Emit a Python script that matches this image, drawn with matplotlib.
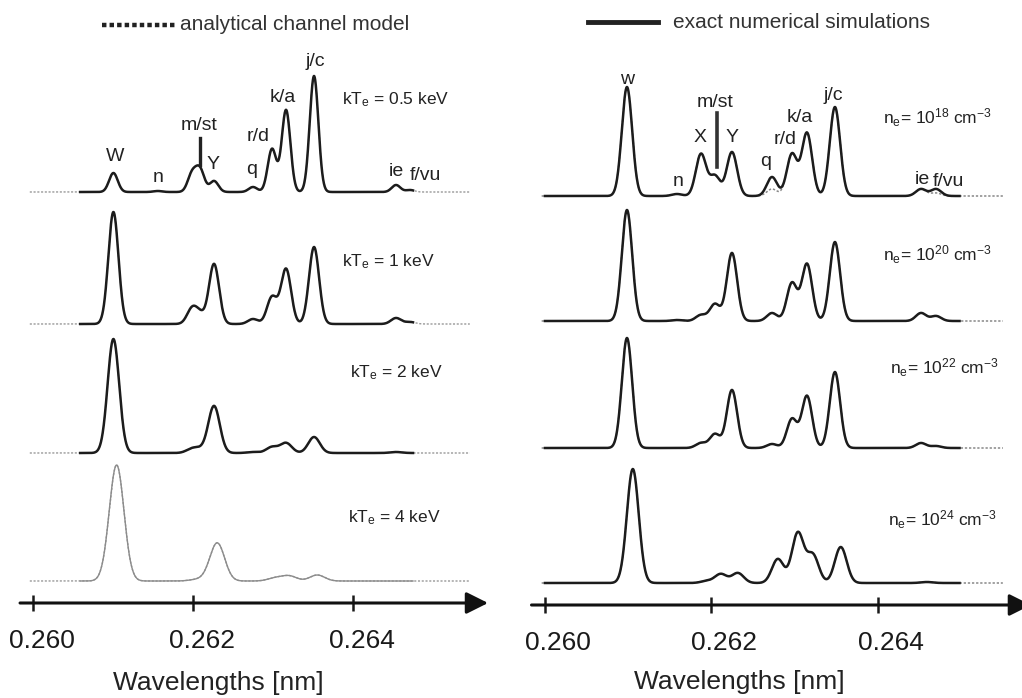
import numpy as np
import matplotlib.pyplot as plt
from matplotlib.transforms import ScaledTranslation

plt.rcParams['font.family'] = 'Liberation Sans'
plt.rcParams['mathtext.fontset'] = 'custom'
plt.rcParams['mathtext.rm'] = 'Liberation Sans'
plt.rcParams['mathtext.it'] = 'Liberation Sans:italic'

# satellite / resonance line list (same order for every spectrum)
line_names = ['W', 'n', 'X', 'm/st', 'Y', 'q', 'r/d', 'k/a', 'j/c', 'ie', 'f/vu']

# line centres [nm] as resolved in each set of runs
centres_te = [0.261005, 0.26156, 0.261988, 0.262088, 0.262263, 0.26275,
              0.262988, 0.263163, 0.263513, 0.264538, 0.264713]
centres_ne = [0.260985, 0.261586, 0.261874, 0.262042, 0.262246, 0.262727,
              0.262967, 0.263147, 0.263483, 0.264517, 0.264697]

# temperature scan (left), peak intensities in arb. units
te_values = ['0.5', '1', '2', '4']
te_int = [
    [0.19, 0.01, 0.18, 0.22, 0.11, 0.05, 0.43, 0.82, 1.16, 0.07, 0.02],
    [1.12, 0.00, 0.15, 0.09, 0.60, 0.05, 0.27, 0.55, 0.77, 0.06, 0.02],
    [1.14, 0.00, 0.04, 0.03, 0.47, 0.01, 0.06, 0.10, 0.16, 0.01, 0.00],
    [1.16, 0.00, 0.01, 0.01, 0.38, 0.00, 0.03, 0.05, 0.06, 0.00, 0.00],
]
te_width = [0.000054, 0.000063, 0.000072, 0.000092]
te_shift = [0.0, 0.0, 0.0, 0.00004]

# density scan (right)
ne_exp = ['18', '20', '22', '24']
ne_int = [
    [1.09, 0.02, 0.42, 0.20, 0.44, 0.19, 0.42, 0.63, 0.89, 0.07, 0.07],
    [1.11, 0.01, 0.06, 0.17, 0.68, 0.08, 0.38, 0.57, 0.79, 0.08, 0.05],
    [1.10, 0.00, 0.05, 0.14, 0.58, 0.04, 0.29, 0.52, 0.76, 0.05, 0.02],
    [1.14, 0.00, 0.02, 0.09, 0.10, 0.24, 0.50, 0.28, 0.36, 0.01, 0.00],
]
ne_width = [0.000062, 0.000062, 0.000062, 0.000071]
ne_shift = [0.0, 0.0, 0.0, 0.00007]
# channel model differs from the simulation only at low density
ne_model_low = [1.09, 0.02, 0.42, 0.20, 0.44, 0.07, 0.42, 0.63, 0.89, 0.07, 0.03]

tick_vals = [0.260, 0.262, 0.264]


def spectrum(lam, centres, ints, width, shift):
    y = np.zeros_like(lam)
    for c, h in zip(centres, ints):
        y += h * np.exp(-0.5 * ((lam - c - shift) / width) ** 2)
    return y


def setup_axis(ax, xlim, ylim, lab_shift):
    ax.set_xlim(xlim)
    ax.set_ylim(ylim)
    for s in ['left', 'right', 'top']:
        ax.spines[s].set_visible(False)
    ax.spines['bottom'].set_position(('data', -0.22))
    ax.spines['bottom'].set_visible(False)
    ax.set_yticks([])
    ax.set_xticks(tick_vals)
    ax.set_xticklabels(['%.3f' % t for t in tick_vals])
    ax.tick_params(axis='x', direction='inout', length=11, width=1.8,
                   labelsize=19, pad=13, colors='#1a1a1a')
    for lab in ax.get_xticklabels():
        lab.set_transform(lab.get_transform() +
                          ScaledTranslation(lab_shift, 0, fig.dpi_scale_trans))
    ax.patch.set_visible(False)


fig = plt.figure(figsize=(10.22, 6.98), dpi=100)
axL = fig.add_axes([15 / 1022, 0, 480 / 1022, 1])
axR = fig.add_axes([530 / 1022, 0, 492 / 1022, 1])
setup_axis(axL, (0.259775, 0.265775), (-1.17, 5.81), 0.09)
setup_axis(axR, (0.25982, 0.26573), (-1.15, 5.83), 0.13)

dark = '#1c1c1c'
dots = (0, (1.5, 1.2))
offs_te = [3.89, 2.57, 1.28, 0.0]
offs_ne = [3.87, 2.62, 1.35, 0.0]

# left: temperature scan
lam_m = np.linspace(0.25996, 0.26546, 1600)
lam_x = np.linspace(0.26059, 0.26475, 1600)
for i in range(4):
    col, lw = (dark, 1.8) if i < 3 else ('#8c8c8c', 1.0)
    ym = spectrum(lam_m, centres_te, te_int[i], te_width[i], te_shift[i])
    ye = spectrum(lam_x, centres_te, te_int[i], te_width[i], te_shift[i])
    axL.plot(lam_m, ym + offs_te[i], ls=dots, lw=1.0, color='#999', zorder=1)
    axL.plot(lam_x, ye + offs_te[i], lw=lw, color=col, zorder=2)

# right: density scan
lam_m = np.linspace(0.25996, 0.26550, 1600)
lam_x = np.linspace(0.26000, 0.26498, 1600)
for i in range(4):
    model = ne_model_low if i == 0 else ne_int[i]
    ym = spectrum(lam_m, centres_ne, model, ne_width[i], ne_shift[i])
    ye = spectrum(lam_x, centres_ne, ne_int[i], ne_width[i], ne_shift[i])
    axR.plot(lam_m, ym + offs_ne[i], ls=dots, lw=1.1, color='#888', zorder=1)
    axR.plot(lam_x, ye + offs_ne[i], lw=1.8, color=dark, zorder=2)

# wavelength axes with arrow heads
for ax, x0, x1 in [(axL, 0.259838, 0.265688), (axR, 0.259838, 0.265838)]:
    ax.annotate('', xy=(x1, -0.22), xytext=(x0, -0.22), annotation_clip=False,
                arrowprops=dict(arrowstyle='-|>,head_length=0.6,head_width=0.3',
                                lw=2.2, color='#111', shrinkA=0, shrinkB=0,
                                mutation_scale=22))
axL.text(0.262313, -1.02, 'Wavelengths [nm]', fontsize=19, ha='center',
         va='center', color='#222')
axR.text(0.26233, -0.99, 'Wavelengths [nm]', fontsize=19, ha='center',
         va='center', color='#222')

# legend samples
axL.plot([0.260863, 0.261775], [5.56, 5.56], ls=(0, (1.0, 0.7)), lw=3.2,
         color='#222')
axL.text(0.261838, 5.56, 'analytical channel model', fontsize=15,
         va='center', color='#333')
axR.plot([0.260517, 0.261357], [5.61, 5.61], lw=3.5, color='#222')
axR.text(0.261538, 5.61, 'exact numerical simulations', fontsize=15,
         va='center', color='#333')

# line identifications
lab_kw = dict(fontsize=14, ha='center', va='center', color='#222')
left_pos = {'W': (0.261025, 4.24), 'n': (0.261563, 4.03), 'm/st': (0.262075, 4.56),
            'Y': (0.26225, 4.16), 'q': (0.262738, 4.11), 'r/d': (0.262813, 4.44),
            'k/a': (0.263125, 4.83), 'j/c': (0.263525, 5.19), 'ie': (0.264538, 4.09),
            'f/vu': (0.2649, 4.06)}
for name, (x, y) in left_pos.items():
    axL.text(x, y, name, **lab_kw)
right_pos = {'w': (0.260985, 5.03), 'm/st': (0.262042, 4.81), 'X': (0.261862, 4.45),
             'Y': (0.262246, 4.45), 'n': (0.261598, 4.01), 'q': (0.262655, 4.21),
             'r/d': (0.262883, 4.43), 'k/a': (0.263063, 4.66), 'j/c': (0.263459, 4.88),
             'ie': (0.264529, 4.03), 'f/vu': (0.264841, 4.01)}
for name, (x, y) in right_pos.items():
    axR.text(x, y, name, **lab_kw)
axL.plot([0.262083, 0.262083], [4.16, 4.43], lw=2.4, color='#222')
axR.plot([0.262066, 0.262066], [4.16, 4.70], lw=2.6, color='#333')

# run conditions
te_xy = [(0.263863, 4.81), (0.263863, 3.19), (0.263963, 2.08), (0.263938, 0.63)]
for v, (x, y) in zip(te_values, te_xy):
    axL.text(x, y, r'kT$_{\rm e}$ = %s keV' % v, fontsize=12.5, va='center',
             color='#222')
ne_xy = [(0.26406, 4.65), (0.26406, 3.28), (0.264144, 2.15), (0.26412, 0.63)]
for v, (x, y) in zip(ne_exp, ne_xy):
    axR.text(x, y, r'n$_{\rm e}$= 10$^{%s}$ cm$^{-3}$' % v, fontsize=12.5,
             va='center', color='#222')

fig.savefig('out.png', dpi=100)
